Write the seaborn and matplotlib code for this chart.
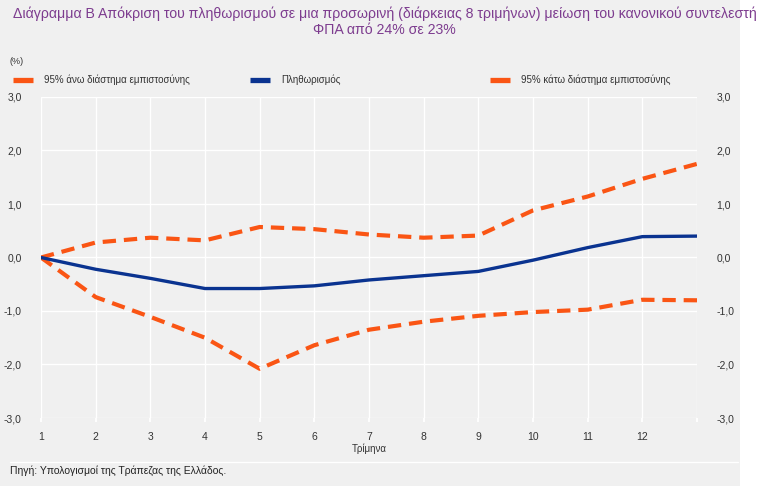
import matplotlib
matplotlib.use("Agg")
import matplotlib.pyplot as plt
import seaborn as sns
import pandas as pd
from matplotlib.lines import Line2D
from matplotlib.patches import Rectangle

# ---- data ----
quarters = list(range(1, 14))
x_tick_values = list(range(1, 13))
x_tick_labels = [str(i) for i in x_tick_values]
upper = [0.0, 0.28, 0.37, 0.32, 0.57, 0.53, 0.43, 0.37, 0.41, 0.88, 1.14, 1.47, 1.75]
inflation = [0.0, -0.22, -0.39, -0.58, -0.58, -0.53, -0.42, -0.34, -0.26, -0.05, 0.185, 0.39, 0.40]
lower = [0.0, -0.74, -1.11, -1.50, -2.08, -1.64, -1.35, -1.20, -1.09, -1.02, -0.975, -0.79, -0.80]
y_ticks = [-3, -2, -1, 0, 1, 2, 3]
y_tick_labels = [f"{v:.1f}".replace(".", ",") for v in y_ticks]

name_upper = "95% άνω διάστημα εμπιστοσύνης"
name_infl = "Πληθωρισμός"
name_lower = "95% κάτω διάστημα εμπιστοσύνης"
title_lines = ["Διάγραμμα Β Απόκριση του πληθωρισμού σε μια προσωρινή (διάρκειας 8 τριμήνων) μείωση του κανονικού συντελεστή",
               "ΦΠΑ από 24% σε 23%"]
x_label = "Τρίμηνα"
source = "Πηγή: Υπολογισμοί της Τράπεζας της Ελλάδος."

ORANGE = "#fa5514"
BLUE = "#0a3390"
BG = "#f0f0f0"
TXT = "#333333"
PURPLE = "#7d3c8f"

sns.set_theme(style="darkgrid", rc={"axes.facecolor": BG, "grid.color": "white",
                                     "grid.linewidth": 1.0})
plt.rcParams["font.family"] = ["Liberation Sans Narrow", "Liberation Sans", "DejaVu Sans"]

df = pd.DataFrame({"q": quarters, "upper": upper, "infl": inflation, "lower": lower})

fig = plt.figure(figsize=(7.69, 4.86), dpi=100)
fig.patch.set_facecolor("white")
fig.patches.append(Rectangle((0, 0), 740 / 769, 1, transform=fig.transFigure,
                             facecolor=BG, edgecolor="none", zorder=-10))

ax = fig.add_axes([41 / 769, 68 / 486, 656 / 769, 321 / 486])
dash = (0, (3.2, 1.9))
sns.lineplot(data=df, x="q", y="upper", ax=ax, color=ORANGE, linewidth=3.0, linestyle=dash)
sns.lineplot(data=df, x="q", y="lower", ax=ax, color=ORANGE, linewidth=3.0, linestyle=dash)
sns.lineplot(data=df, x="q", y="infl", ax=ax, color=BLUE, linewidth=2.4)

ax.set_xlim(1, 13)
ax.set_ylim(-3, 3)
ax.set_xticks(quarters)
ax.set_xticklabels(x_tick_labels + [""])
ax.set_yticks(y_ticks)
ax.set_yticklabels(y_tick_labels)
for s in ax.spines.values():
    s.set_visible(False)
ax.tick_params(axis="y", which="both", labelleft=True, labelright=True, left=False,
               right=False, pad=8, labelsize=7.5, labelcolor=TXT)
ax.tick_params(axis="x", bottom=True, length=3, color="white", pad=7, labelsize=7.5,
               labelcolor=TXT)
for lbl in ax.get_xticklabels():
    lbl.set_x(lbl.get_position()[0])
ax.set_xlabel(x_label, fontsize=7, color=TXT, labelpad=1)
ax.set_ylabel("")

# legend (three separately placed entries)
for xpos, name, col in [(13, name_upper, ORANGE), (250, name_infl, BLUE), (490, name_lower, ORANGE)]:
    h = Line2D([], [], color=col, linewidth=3.8, solid_capstyle="butt")
    leg = fig.legend([h], [name], loc="center left", bbox_to_anchor=(xpos / 769, 1 - 80 / 486),
                     frameon=False, fontsize=7, handlelength=2.1, handletextpad=1.1,
                     borderpad=0, borderaxespad=0)
    for t in leg.get_texts():
        t.set_color(TXT)

fig.text(10 / 769, 1 - 62 / 486, "(%)", fontsize=6.5, color=TXT, ha="left", va="center")

fig.text(0.5, 1 - 14 / 486, title_lines[0], fontsize=10.2, color=PURPLE, ha="center", va="center")
fig.text(0.5, 1 - 30 / 486, title_lines[1], fontsize=10.2, color=PURPLE, ha="center", va="center")

fig.lines.append(Line2D([10 / 769, 738 / 769], [1 - 462 / 486, 1 - 462 / 486],
                        transform=fig.transFigure, color="white", linewidth=1.0))
fig.text(10 / 769, 1 - 471 / 486, source, fontsize=7.5, color="#222222", ha="left", va="center")

fig.savefig("out.png", dpi=100, facecolor=fig.get_facecolor())
